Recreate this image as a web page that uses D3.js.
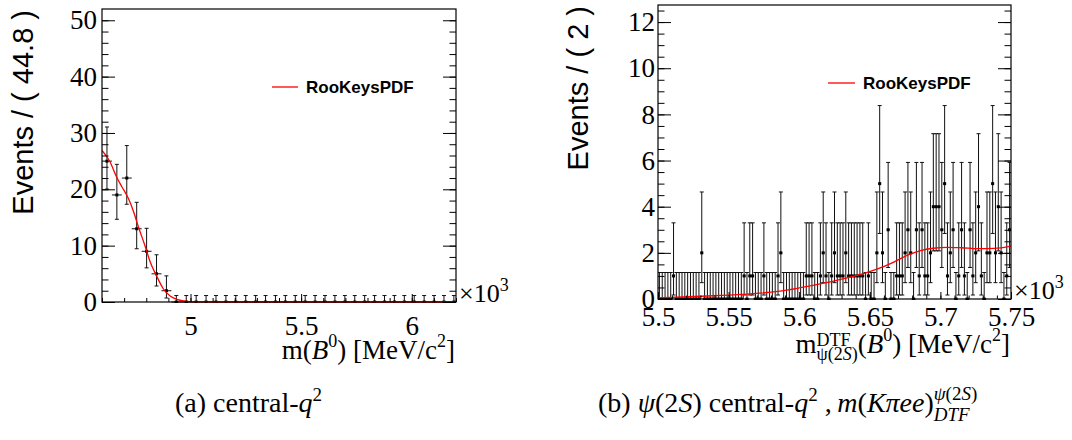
<!DOCTYPE html>
<html><head><meta charset="utf-8">
<script src="https://cdn.jsdelivr.net/npm/d3@7"></script>
<style>body{margin:0;background:#fff}svg{display:block}</style>
</head><body>
<svg id="c" width="1072" height="440"></svg>
<script>
// ---------------- data ----------------
// (a) left panel: m(B0) in units of 10^3 MeV, bin width 44.8 MeV
const leftXRange = [4.6, 6.2];
const leftBinStart = 4.6;
const leftBinWidth = 0.0448;
const leftCounts = [25,19,22,13,9,5,2,0,0,0,0,0,0,0,0,0,0,0,0,0,0,0,0,0,0,0,0,0,0,0,0,0,0,0,0,0];
const leftYMax = 52;
const leftCurveX = [4.600,4.636,4.666,4.689,4.719,4.742,4.764,4.795,4.817,4.847,4.877,4.908,4.938,4.983,5.030,5.100,5.500,6.200];
const leftCurveY = [26.9,24.9,22.2,20.5,18.4,16.1,13.4,9.9,7.2,4.6,2.35,1.06,0.47,0.12,0.02,0,0,0];
const leftYMajor = [0,10,20,30,40,50];
const leftXMajor = [5,5.5,6];
const leftXLabels = ["5","5.5","6"];

// (b) right panel: m_DTF in units of 10^3 MeV, bin width 2 MeV
const rightXRange = [5.5, 5.75];
const rightBinStart = 5.5;
const rightBinWidth = 0.002;
const rightCounts = [
 0,0,0,0,0,1,0,0,0,0,0,0,0,0,0,2,0,0,0,0,0,0,0,0,0,
 0,0,0,0,0,1,0,1,1,0,0,0,1,0,0,0,0,1,2,0,0,0,0,0,0,
 0,0,1,1,1,0,0,1,2,1,0,1,2,1,1,1,2,1,1,1,1,1,1,0,1,
 0,0,2,5,2,0,3,0,0,1,1,1,2,3,2,0,3,1,3,1,1,2,4,4,4,
 3,5,1,2,3,0,1,3,1,0,3,1,2,4,1,0,2,2,5,2,4,2,0,1,3];
const rightYMax = 12.74;
const rightCurveX = [5.500,5.530,5.560,5.585,5.600,5.620,5.634,5.645,5.655,5.667,5.676,5.686,5.695,5.705,5.715,5.727,5.738,5.750];
const rightCurveY = [0.05,0.12,0.20,0.33,0.48,0.72,0.92,1.09,1.29,1.60,1.88,2.10,2.20,2.24,2.22,2.18,2.19,2.29];
const rightYMajor = [0,2,4,6,8,10,12];
const rightXMajor = [5.5,5.55,5.6,5.65,5.7,5.75];
const rightXLabels = ["5.5","5.55","5.6","5.65","5.7","5.75"];

// Poisson 68% intervals used for the data error bars
const poissonN  = [0,1,2,3,4,5,9,13,19,22,25];
const poissonLo = [0,0.173,0.708,1.367,2.086,2.840,6.06,9.45,14.68,17.35,20.04];
const poissonHi = [1.148,3.300,4.638,5.918,7.163,8.382,13.08,17.69,24.43,27.76,31.06];

const legendLabel = "RooKeysPDF";

// ---------------- drawing ----------------
const svg = d3.select("#c");
const SERIF = "Liberation Serif";
const SANS = "Liberation Sans";
const serif = (sel,size) => sel.style("font-family",SERIF).style("font-size",size+"px");
const sans = (sel,size) => sel.style("font-family",SANS).style("font-size",size+"px");

function panel(o){
  const g = svg.append("g");
  const x = d3.scaleLinear().domain(o.xRange).range([o.x0,o.x1]);
  const y = d3.scaleLinear().domain([0,o.yMax]).range([o.y1,o.y0]);
  const clip = "clip"+o.id;
  svg.append("clipPath").attr("id",clip).append("rect")
     .attr("x",o.x0).attr("y",o.y0-1).attr("width",o.x1-o.x0).attr("height",o.y1-o.y0+2);

  const dg = g.append("g").attr("clip-path",`url(#${clip})`);
  const pts = o.counts.map((n,i)=>({n, c:o.binStart+(i+0.5)*o.binWidth}));
  const err = dg.append("g").attr("stroke","#111").attr("stroke-width",1).attr("fill","none");
  pts.forEach(p=>{
    const k = poissonN.indexOf(p.n);
    const cx = x(p.c);
    const yl = y(poissonLo[k]), yh = y(poissonHi[k]), yc = y(p.n);
    err.append("line").attr("x1",cx).attr("x2",cx).attr("y1",yl).attr("y2",yh);
    err.append("line").attr("x1",cx-o.cap).attr("x2",cx+o.cap).attr("y1",yh).attr("y2",yh);
    err.append("line").attr("x1",cx-o.cap).attr("x2",cx+o.cap).attr("y1",yl).attr("y2",yl);
    err.append("line").attr("x1",x(p.c-o.binWidth/2)).attr("x2",x(p.c+o.binWidth/2)).attr("y1",yc).attr("y2",yc);
  });
  dg.append("g").selectAll("rect").data(pts).join("rect")
    .attr("x",d=>x(d.c)-1.5).attr("y",d=>y(d.n)-1.5).attr("width",3).attr("height",3).attr("fill","#000");

  const cpts = o.curveX.map((v,i)=>[v,o.curveY[i]]);
  dg.append("path").datum(cpts)
    .attr("d",d3.line().x(d=>x(d[0])).y(d=>y(d[1])).curve(d3.curveMonotoneX))
    .attr("fill","none").attr("stroke","#ff0000").attr("stroke-width",1.3);

  const styleAxis = s => { s.select(".domain").remove();
                           s.attr("font-family",SERIF).attr("font-size",27);
                           s.selectAll("line").attr("stroke","#000");
                           serif(s.selectAll("text").attr("fill","#000"),27); };
  const yMinor = d3.range(0,o.yMax,o.yMinorStep);
  g.append("g").attr("transform",`translate(${o.x0},0)`)
    .call(d3.axisLeft(y).tickValues(yMinor).tickSizeInner(-o.yMinorLen).tickSizeOuter(0).tickFormat(""))
    .call(styleAxis);
  g.append("g").attr("transform",`translate(${o.x0},0)`)
    .call(d3.axisLeft(y).tickValues(o.yMajor).tickSizeInner(-o.yMajorLen).tickSizeOuter(0).tickPadding(o.yPad).tickFormat(d3.format("d")))
    .call(styleAxis);
  g.append("g").attr("transform",`translate(${o.x1},0)`)
    .call(d3.axisRight(y).tickValues(yMinor).tickSizeInner(-o.yMinorLen).tickSizeOuter(0).tickFormat(""))
    .call(styleAxis);
  g.append("g").attr("transform",`translate(${o.x1},0)`)
    .call(d3.axisRight(y).tickValues(o.yMajor).tickSizeInner(-o.yMajorLen).tickSizeOuter(0).tickFormat(""))
    .call(styleAxis);
  const xMinor = d3.range(Math.round(o.xRange[0]/o.xMinorStep), Math.round(o.xRange[1]/o.xMinorStep)+1).map(v=>v*o.xMinorStep);
  g.append("g").attr("transform",`translate(0,${o.y1})`)
    .call(d3.axisBottom(x).tickValues(xMinor).tickSizeInner(-o.xMinorLen).tickSizeOuter(0).tickFormat(""))
    .call(styleAxis);
  g.append("g").attr("transform",`translate(0,${o.y1})`)
    .call(d3.axisBottom(x).tickValues(o.xMajor).tickSizeInner(-o.xMajorLen).tickSizeOuter(0).tickPadding(o.xPad)
          .tickFormat((d,i)=>o.xLabels[i]))
    .call(styleAxis);

  g.append("rect").attr("x",o.x0).attr("y",o.y0).attr("width",o.x1-o.x0).attr("height",o.y1-o.y0)
    .attr("fill","none").attr("stroke","#000").attr("stroke-width",1.2);

  g.append("line").attr("x1",o.legX).attr("x2",o.legX+o.legLen).attr("y1",o.legY).attr("y2",o.legY)
    .attr("stroke","#ff0000").attr("stroke-width",1.3);
  sans(g.append("text").attr("x",o.legX+o.legLen+8).attr("y",o.legY+6),17)
    .style("font-weight","bold").text(legendLabel);

  sans(g.append("text").attr("transform",`translate(${o.ytX},${o.y0+1}) rotate(-90)`).attr("text-anchor","end"),29)
    .text(o.yTitle);

  const e = serif(g.append("text").attr("x",o.x1+3).attr("y",o.y1),26);
  e.append("tspan").text("\u00d710");
  e.append("tspan").attr("dy",-11).style("font-size","18px").text("3");
  return g;
}

panel({id:"L",x0:102,x1:456,y0:9,y1:302,xRange:leftXRange,yMax:leftYMax,binStart:leftBinStart,binWidth:leftBinWidth,
  counts:leftCounts,curveX:leftCurveX,curveY:leftCurveY,cap:2,yMajor:leftYMajor,yMinorStep:2,yMajorLen:13,yMinorLen:6.5,yPad:5,
  xMajor:leftXMajor,xLabels:leftXLabels,xMinorStep:0.1,xMajorLen:8,xMinorLen:4,xPad:14,
  legX:272,legLen:26,legY:87,ytX:33,yTitle:"Events / ( 44.8 )"});
panel({id:"R",x0:658,x1:1011,y0:5,y1:299,xRange:rightXRange,yMax:rightYMax,binStart:rightBinStart,binWidth:rightBinWidth,
  counts:rightCounts,curveX:rightCurveX,curveY:rightCurveY,cap:2,yMajor:rightYMajor,yMinorStep:0.5,yMajorLen:13,yMinorLen:6.5,yPad:3,
  xMajor:rightXMajor,xLabels:rightXLabels,xMinorStep:0.01,xMajorLen:7,xMinorLen:3.5,xPad:8,
  legX:828,legLen:27,legY:83,ytX:588,yTitle:"Events / ( 2 )"});

// x titles
{
  const t = serif(svg.append("text").attr("x",455).attr("y",359).attr("text-anchor","end"),27);
  t.append("tspan").text("m(");
  t.append("tspan").style("font-style","italic").text("B");
  t.append("tspan").attr("dy",-12).style("font-size","18px").text("0");
  t.append("tspan").attr("dy",12).text(") [MeV/c");
  t.append("tspan").attr("dy",-12).style("font-size","18px").text("2");
  t.append("tspan").attr("dy",12).text("]");
}
{
  const meas = serif(svg.append("text"),18).text("DTF");
  const wSup = meas.node().getComputedTextLength(); meas.remove();
  const t = serif(svg.append("text").attr("x",1010).attr("y",353).attr("text-anchor","end"),27);
  t.append("tspan").text("m");
  t.append("tspan").attr("dy",-7).style("font-size","18px").text("DTF");
  const s = t.append("tspan").attr("dx",-wSup).attr("dy",14).style("font-size","18px");
  s.append("tspan").text("\u03c8(2");
  s.append("tspan").style("font-style","italic").text("S");
  s.append("tspan").text(")");
  t.append("tspan").attr("dy",-7).text("(");
  t.append("tspan").style("font-style","italic").text("B");
  t.append("tspan").attr("dy",-12).style("font-size","18px").text("0");
  t.append("tspan").attr("dy",12).text(") [MeV/c");
  t.append("tspan").attr("dy",-12).style("font-size","18px").text("2");
  t.append("tspan").attr("dy",12).text("]");
}

// captions (same font size for both)
{
  const t = serif(svg.append("text").attr("x",175).attr("y",412),28);
  t.append("tspan").text("(a) central-");
  t.append("tspan").style("font-style","italic").text("q");
  t.append("tspan").attr("dy",-11).style("font-size","19px").text("2");
}
{
  const meas = serif(svg.append("text"),19).style("font-style","italic").text("DTF");
  const wSub = meas.node().getComputedTextLength(); meas.remove();
  const t = serif(svg.append("text").attr("x",598).attr("y",412),28);
  t.append("tspan").text("(b) ");
  t.append("tspan").style("font-style","italic").text("\u03c8");
  t.append("tspan").text("(2");
  t.append("tspan").style("font-style","italic").text("S");
  t.append("tspan").text(") central-");
  t.append("tspan").style("font-style","italic").text("q");
  t.append("tspan").attr("dy",-11).style("font-size","19px").text("2");
  t.append("tspan").attr("dy",11).text(" ,\u2009");
  t.append("tspan").style("font-style","italic").text("m");
  t.append("tspan").text("(");
  t.append("tspan").style("font-style","italic").text("K\u03c0ee");
  t.append("tspan").text(")");
  t.append("tspan").attr("dy",9).style("font-size","19px").style("font-style","italic").text("DTF");
  const sup = t.append("tspan").attr("dx",-wSub).attr("dy",-21).style("font-size","19px");
  sup.append("tspan").style("font-style","italic").text("\u03c8");
  sup.append("tspan").text("(2");
  sup.append("tspan").style("font-style","italic").text("S");
  sup.append("tspan").text(")");
}
</script>
</body></html>
